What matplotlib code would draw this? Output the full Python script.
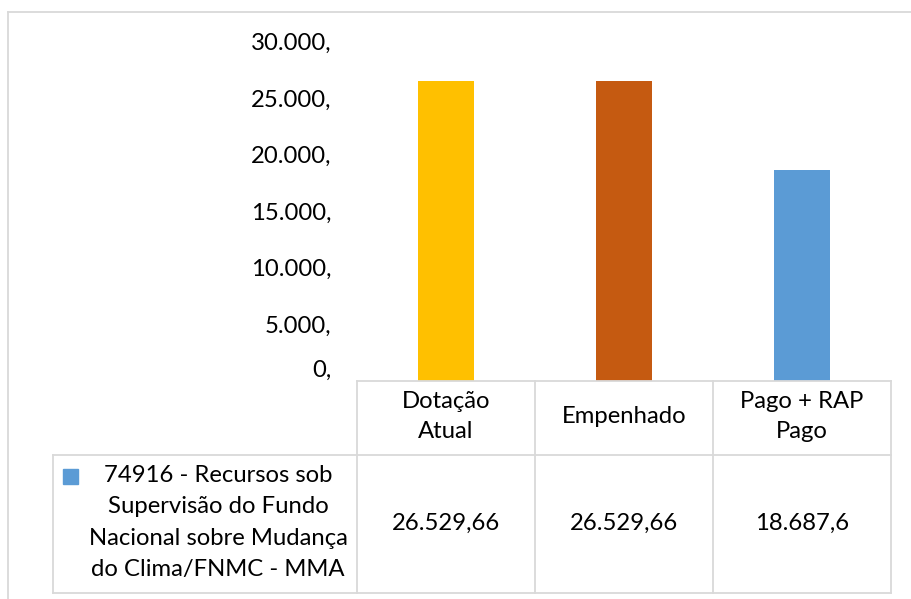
import matplotlib
matplotlib.use("Agg")
import matplotlib.pyplot as plt
from matplotlib.transforms import blended_transform_factory
from matplotlib.lines import Line2D
from matplotlib.patches import Rectangle

plt.rcParams['font.family'] = ['Lato', 'DejaVu Sans']

categories = ["Dotação\nAtual", "Empenhado", "Pago + RAP\nPago"]
values = [26529.66, 26529.66, 18687.6]
bar_colors = ["#FFC000", "#C55A11", "#5B9BD5"]
series_name = "74916 - Recursos sob\nSupervisão do Fundo\nNacional sobre Mudança\ndo Clima/FNMC - MMA"
yticks = [0, 5000, 10000, 15000, 20000, 25000, 30000]
ytick_labels = ["0,", "5.000,", "10.000,", "15.000,", "20.000,", "25.000,", "30.000,"]


def fmt_br(v):
    s = f"{v:,.2f}".rstrip("0").rstrip(".")
    return s.replace(",", "X").replace(".", ",").replace("X", ".")


W, H = 912, 599
fig = plt.figure(figsize=(W / 100, H / 100), dpi=100)


def fx(x):
    return x / W


def fy(y):
    return 1 - y / H


grid_c = "#d9d9d9"
FS = 17.2

# outer chart border
fig.add_artist(Line2D([fx(8), 1.0], [fy(12), fy(12)], color=grid_c, lw=1.3))
fig.add_artist(Line2D([fx(8), fx(8)], [fy(12), 0.0], color=grid_c, lw=1.3))

ax_l, ax_r, ax_b, ax_t = 357, 890.7, 380.5, 41.8
ax = fig.add_axes([fx(ax_l), fy(ax_b), fx(ax_r - ax_l), (ax_b - ax_t) / H])
x = list(range(len(categories)))
ax.bar(x, values, width=0.315, color=bar_colors)
ax.set_xlim(-0.5, len(categories) - 0.5)
ax.set_ylim(0, 30000)
ax.set_yticks(yticks)
ax.set_yticklabels(ytick_labels, fontsize=FS, color="#000000")
ax.tick_params(axis="y", length=0, pad=18.5)
ax.get_yticklabels()[0].set_va("bottom")
ax.set_xticks([])
for s in ax.spines.values():
    s.set_visible(False)

# data table
tr = blended_transform_factory(ax.transData, fig.transFigure)
row_top, row_mid, row_bot = 380.5, 454.5, 593
leg_left = 53
# horizontal lines
fig.add_artist(Line2D([fx(ax_l), fx(ax_r)], [fy(row_top)] * 2, color=grid_c, lw=1.3))
fig.add_artist(Line2D([fx(leg_left), fx(ax_r)], [fy(row_mid)] * 2, color=grid_c, lw=1.3))
fig.add_artist(Line2D([fx(leg_left), fx(ax_r)], [fy(row_bot)] * 2, color=grid_c, lw=1.3))
# vertical lines
for b in [i - 0.5 for i in range(len(categories) + 1)]:
    ax.add_artist(Line2D([b, b], [fy(row_top), fy(row_bot)], color=grid_c, lw=1.3,
                         transform=tr, clip_on=False))
fig.add_artist(Line2D([fx(leg_left)] * 2, [fy(row_mid), fy(row_bot)], color=grid_c, lw=1.3))

for i, (c, v) in enumerate(zip(categories, values)):
    ax.text(i, fy(416.7), c, transform=tr, ha="center", va="center",
            fontsize=FS, linespacing=1.5, clip_on=False)
    ax.text(i, fy(523), fmt_br(v), transform=tr, ha="center",
            va="center", fontsize=FS, clip_on=False)

# legend key in table
fig.add_artist(Rectangle((fx(63), fy(484)), fx(15), 15 / H, color=bar_colors[2]))
fig.text(fx(218), fy(522.5), series_name, ha="center", va="center",
         fontsize=FS, linespacing=1.62)

fig.savefig("out.png", dpi=100)
